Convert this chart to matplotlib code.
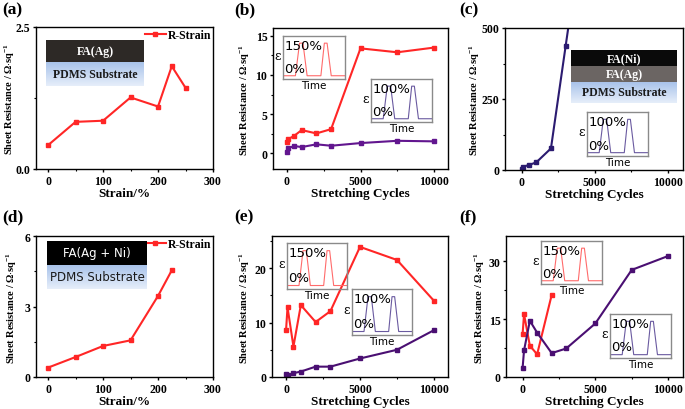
import numpy as np
import matplotlib
matplotlib.use("Agg")
import matplotlib.pyplot as plt
from matplotlib.patches import Rectangle
from matplotlib.ticker import AutoMinorLocator

# ---------------- data ----------------
strain_a = [0, 50, 100, 150, 200, 225, 250]
res_a = [0.42, 0.83, 0.85, 1.26, 1.10, 1.81, 1.43]

cycles = [0, 100, 500, 1000, 2000, 3000, 5000, 7500, 10000]
res_b_150 = [1.48, 1.82, 2.25, 2.97, 2.54, 3.09, 13.4, 12.9, 13.5]
res_b_100 = [0.2, 0.68, 0.93, 0.80, 1.15, 0.97, 1.31, 1.60, 1.53]

cycles_c = [0, 100, 500, 1000, 2000, 3000, 5000]
res_c_100 = [3.5, 11.7, 17.6, 27.0, 76.0, 435.0, 1150.0]

strain_d = [0, 50, 100, 150, 200, 225]
res_d = [0.40, 0.85, 1.32, 1.56, 3.45, 4.54]

res_e_150 = [8.6, 12.8, 5.6, 13.2, 10.1, 12.1, 23.9, 21.5, 14.0]
res_e_100 = [0.5, 0.3, 0.7, 1.0, 1.9, 1.9, 3.4, 5.0, 8.6]

cycles_f_150 = [0, 100, 500, 1000, 2000]
res_f_150 = [11.1, 16.3, 8.1, 5.9, 21.3]
res_f_100 = [2.3, 6.9, 14.6, 11.5, 6.2, 7.4, 13.9, 27.8, 31.4]

pulse_time = [0, 0.2, 0.267, 0.322, 0.389, 0.611, 0.667, 0.711, 0.778, 1.0]
pulse_level = [0, 0, 1, 1, 0, 0, 1, 1, 0, 0]

strain_ticks = [0, 100, 200, 300]
cycle_ticks = [0, 5000, 10000]
yticks_a = [0.0, 2.5]
yticks_b = [0, 5, 10, 15]
yticks_c = [0, 250, 500]
yticks_d = [0, 3, 6]
yticks_e = [0, 10, 20]
yticks_f = [0, 15, 30]

panel_labels = ["(a)", "(b)", "(c)", "(d)", "(e)", "(f)"]
ylabel_text = r"Sheet Resistance / $\mathbf{\Omega}$$\cdot$sq$^{\mathbf{-1}}$"

# ---------------- style ----------------
W, H = 685, 410
plt.rcParams["font.family"] = ["Liberation Serif", "DejaVu Serif"]
plt.rcParams["font.weight"] = "bold"
plt.rcParams["mathtext.fontset"] = "custom"
plt.rcParams["mathtext.rm"] = "Liberation Serif:bold"
plt.rcParams["mathtext.bf"] = "Liberation Serif:bold"
plt.rcParams["mathtext.it"] = "Liberation Serif:bold:italic"

RED = "#ff2626"
PURPLE_B = "#62168f"
PURPLE_C = "#2b1b70"
PURPLE_EF = "#4a0f72"
PULSE_RED = "#ff6b6b"
PULSE_PURPLE = "#6a5aa0"

fig = plt.figure(figsize=(W / 100, H / 100), dpi=100)


def px_axes(l, t, r, b, **kw):
    return fig.add_axes([l / W, 1 - b / H, (r - l) / W, (b - t) / H], **kw)


def style_main(ax, xlabel, xticks, yticks, ylab_off, yfmt="{:g}"):
    ax.set_xticks(xticks, labels=[f"{v:g}" for v in xticks],
                  fontweight="bold", fontsize=8.5)
    ax.set_yticks(yticks, labels=[yfmt.format(v) for v in yticks],
                  fontweight="bold", fontsize=8.5)
    ax.xaxis.set_minor_locator(AutoMinorLocator(2))
    ax.yaxis.set_minor_locator(AutoMinorLocator(2))
    for s in ax.spines.values():
        s.set_linewidth(1.0)
        s.set_color("black")
    ax.tick_params(which="major", direction="out", length=2.5, width=1.0, pad=1.5)
    ax.tick_params(which="minor", direction="out", length=1.5, width=0.8)
    ax.set_xlabel(xlabel, fontsize=9.5, fontweight="bold", labelpad=0)
    ax.set_ylabel(ylabel_text, fontsize=7.5, fontweight="bold", va="center")
    width_px = ax.get_position().width * W
    ax.yaxis.set_label_coords(ylab_off / width_px, 0.5)


def pulse_inset(l, t, r, b, color, top_label):
    ia = px_axes(l, t, r, b)
    ia.plot(pulse_time, pulse_level, color=color, lw=0.8)
    ia.set_xlim(0, 1)
    ia.set_ylim(-0.1, 1.22)
    ia.set_xticks([])
    ia.set_yticks([])
    ia.patch.set_alpha(0)
    for s in ia.spines.values():
        s.set_color("#8a8a8a")
        s.set_linewidth(1.0)
    ia.text(0.02, 0.79, top_label, transform=ia.transAxes, fontsize=9.5,
            family="DejaVu Sans", fontweight="normal", va="center", ha="left")
    ia.text(0.02, 0.25, "0%", transform=ia.transAxes, fontsize=9.5,
            family="DejaVu Sans", fontweight="normal", va="center", ha="left")
    ia.text(0.5, -0.03, "Time", transform=ia.transAxes, fontsize=7.5,
            family="DejaVu Sans", fontweight="normal", va="top", ha="center")
    ia.text(-0.04, 0.55, "ε", transform=ia.transAxes, fontsize=9,
            family="DejaVu Serif", fontweight="normal", va="center", ha="right")
    return ia


def layer_diagram(l, t, r, layers):
    total = sum(x[0] for x in layers)
    la = px_axes(l, t, r, t + total)
    la.set_xlim(0, 1)
    la.axis("off")
    y = total
    for hgt, fill, txt, tcol, fam, wt in layers:
        y0 = y - hgt
        if fill == "gradient":
            grad = np.linspace(0, 1, 64).reshape(-1, 1)
            cmap = matplotlib.colors.LinearSegmentedColormap.from_list(
                "g", ["#e6eefa", "#a9c3ea"])
            la.imshow(grad, cmap=cmap, aspect="auto",
                      extent=(0, 1, y, y0), origin="upper")
        else:
            la.add_patch(Rectangle((0, y0), 1, hgt, color=fill, lw=0))
        la.text(0.5, y0 + hgt / 2, txt, color=tcol, family=fam, fontweight=wt,
                fontsize=8.5, ha="center", va="center")
        y = y0
    la.set_xlim(0, 1)
    la.set_ylim(0, total)
    return la


def legend_rs(ax):
    return ax.legend(loc="upper right", frameon=False, borderaxespad=0,
                     bbox_to_anchor=(1.02, 1.02), handlelength=1.8,
                     handletextpad=0.2, prop={"weight": "bold", "size": 8.5})


# ---------------- (a) ----------------
ax = px_axes(36, 28, 213, 170)
ax.plot(strain_a, res_a, color=RED, lw=1.5, marker="s", ms=2.5, label="R-Strain")
ax.set_xlim(-22, 300)
ax.set_ylim(0, 2.5)
style_main(ax, "Strain/%", strain_ticks, yticks_a, -26, "{:.1f}")
legend_rs(ax)
layer_diagram(46, 41, 144, [
    (22, "#2d2926", "FA(Ag)", "white", "Liberation Serif", "bold"),
    (24, "gradient", "PDMS Substrate", "#1a1a1a", "Liberation Serif", "bold"),
])

# ---------------- (b) ----------------
ax = px_axes(273, 29, 448, 170)
ax.plot(cycles, res_b_150, color=RED, lw=1.5, marker="s", ms=2.5)
ax.plot(cycles, res_b_100, color=PURPLE_B, lw=1.5, marker="s", ms=2.5)
ax.set_xlim(-950, 10950)
ax.set_ylim(-2.0, 16.0)
style_main(ax, "Stretching Cycles", cycle_ticks, yticks_b, -28)
pulse_inset(283, 37, 345, 80, PULSE_RED, "150%")
pulse_inset(371, 80, 432, 123, PULSE_PURPLE, "100%")

# ---------------- (c) ----------------
ax = px_axes(505, 29, 683, 171)
ax.plot(cycles_c, res_c_100, color=PURPLE_C, lw=1.5, marker="s", ms=2.5)
ax.set_xlim(-1140, 11025)
ax.set_ylim(0, 500)
style_main(ax, "Stretching Cycles", cycle_ticks, yticks_c, -30)
layer_diagram(571, 51, 677, [
    (16, "#0a0a0a", "FA(Ni)", "white", "Liberation Serif", "bold"),
    (16, "#6b6563", "FA(Ag)", "white", "Liberation Serif", "bold"),
    (21, "gradient", "PDMS Substrate", "#1a1a1a", "Liberation Serif", "bold"),
])
pulse_inset(587, 113, 648, 157, PULSE_PURPLE, "100%")

# ---------------- (d) ----------------
ax = px_axes(36, 237, 213, 378)
ax.plot(strain_d, res_d, color=RED, lw=1.5, marker="s", ms=2.5, label="R-Strain")
ax.set_xlim(-22, 300)
ax.set_ylim(0, 6)
style_main(ax, "Strain/%", strain_ticks, yticks_d, -24)
legend_rs(ax)
layer_diagram(47, 242, 147, [
    (24, "#000000", "FA(Ag + Ni)", "white", "DejaVu Sans", "normal"),
    (24, "gradient", "PDMS Substrate", "#1a1a1a", "DejaVu Sans", "normal"),
])

# ---------------- (e) ----------------
ax = px_axes(272, 237, 448, 378)
ax.plot(cycles, res_e_150, color=RED, lw=1.5, marker="s", ms=2.5)
ax.plot(cycles, res_e_100, color=PURPLE_EF, lw=1.5, marker="s", ms=2.5)
ax.set_xlim(-950, 10950)
ax.set_ylim(0, 25.9)
style_main(ax, "Stretching Cycles", cycle_ticks, yticks_e, -27)
pulse_inset(287, 244, 347, 290, PULSE_RED, "150%")
pulse_inset(352, 290, 412, 336, PULSE_PURPLE, "100%")

# ---------------- (f) ----------------
ax = px_axes(506, 237, 683, 378)
ax.plot(cycles_f_150, res_f_150, color=RED, lw=1.5, marker="s", ms=2.5)
ax.plot(cycles, res_f_100, color=PURPLE_EF, lw=1.5, marker="s", ms=2.5)
ax.set_xlim(-1140, 11025)
ax.set_ylim(0, 36.6)
style_main(ax, "Stretching Cycles", cycle_ticks, yticks_f, -26)
pulse_inset(541, 242, 602, 285, PULSE_RED, "150%")
pulse_inset(610, 315, 671, 359, PULSE_PURPLE, "100%")

# ---------------- panel labels ----------------
label_pos = [(2, 2), (234, 2), (459, 2), (2, 209), (234, 209), (459, 209)]
for lab, (x, y) in zip(panel_labels, label_pos):
    fig.text(x / W, 1 - y / H, lab, fontsize=12.5, fontweight="bold",
             ha="left", va="top")

fig.savefig("out.png", dpi=100)
